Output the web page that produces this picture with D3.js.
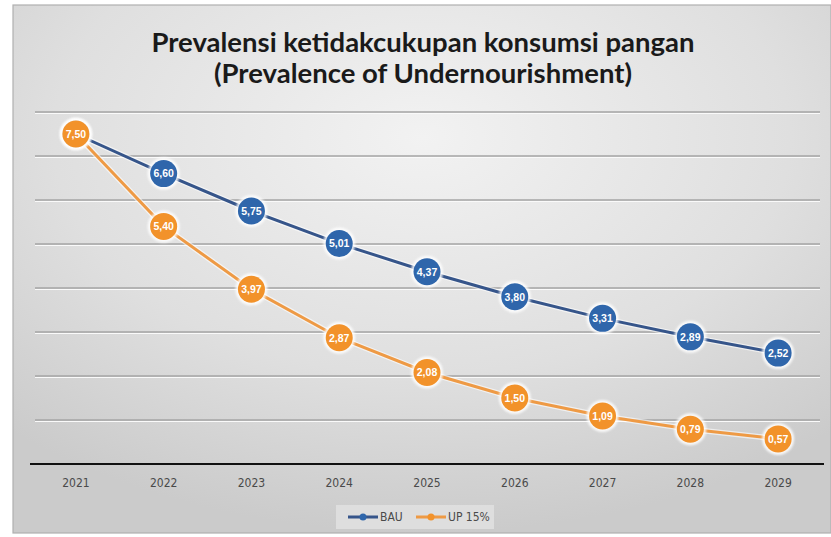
<html>
<head>
<script src="https://d3js.org/d3.v7.min.js"></script>
<style>
  body { margin: 0; background: #fff; }
  svg { display: block; }
</style>
</head>
<body>
<svg id="chart" width="831" height="537"></svg>
<script>
// data
const years = ["2021", "2022", "2023", "2024", "2025", "2026", "2027", "2028", "2029"];
const bau = [7.50, 6.60, 5.75, 5.01, 4.37, 3.80, 3.31, 2.89, 2.52];
const up15 = [7.50, 5.40, 3.97, 2.87, 2.08, 1.50, 1.09, 0.79, 0.57];
const seriesNames = ["BAU", "UP 15%"];
const titleLines = ["Prevalensi ketidakcukupan konsumsi pangan", "(Prevalence of Undernourishment)"];

const svg = d3.select("#chart");
const W = 831, H = 537;

// background panel with soft grey gradient
const defs = svg.append("defs");
const grad = defs.append("radialGradient")
    .attr("id", "bg")
    .attr("cx", "50%").attr("cy", "25%").attr("r", "75%");
grad.append("stop").attr("offset", "0%").attr("stop-color", "#f2f2f2");
grad.append("stop").attr("offset", "60%").attr("stop-color", "#dfdfdf");
grad.append("stop").attr("offset", "100%").attr("stop-color", "#cbcbcb");

const glow = defs.append("filter").attr("id", "glow")
    .attr("x", "-50%").attr("y", "-50%").attr("width", "200%").attr("height", "200%");
glow.append("feGaussianBlur").attr("stdDeviation", 1.2);

svg.append("rect").attr("width", W).attr("height", H).attr("fill", "#fff");
svg.append("rect")
    .attr("x", 13).attr("y", 5)
    .attr("width", W - 13).attr("height", 528)
    .attr("fill", "url(#bg)")
    .attr("stroke", "#b0b0b0").attr("stroke-width", 1.2);

// title
svg.append("text")
    .attr("x", 423).attr("y", 52)
    .attr("text-anchor", "middle")
    .style("font-family", "Lato, 'Liberation Sans', sans-serif")
    .style("font-weight", "bold")
    .style("font-size", "27.5px")
    .attr("fill", "#1a1a1a")
    .selectAll("tspan")
    .data(titleLines)
    .join("tspan")
    .attr("x", 423)
    .attr("dy", (d, i) => i === 0 ? 0 : 31)
    .text(d => d);

const x = d3.scaleBand().domain(years).range([32, 822]);
const y = d3.scaleLinear().domain([0, 8]).range([464, 112]);
const cx = d => x(d) + x.bandwidth() / 2;

// gridlines (grey with a light shadow underneath)
const gridVals = d3.range(1, 9);
svg.append("g").selectAll("line")
    .data(gridVals)
    .join("line")
    .attr("x1", 35).attr("x2", 820)
    .attr("y1", d => y(d) + 1.5).attr("y2", d => y(d) + 1.5)
    .attr("stroke", "#fafafa").attr("stroke-width", 1.2);
svg.append("g").selectAll("line")
    .data(gridVals)
    .join("line")
    .attr("x1", 35).attr("x2", 820)
    .attr("y1", d => y(d)).attr("y2", d => y(d))
    .attr("stroke", "#a5a5a5").attr("stroke-width", 1.4);

// x axis
const xAxis = svg.append("g")
    .attr("transform", "translate(0,464)")
    .call(d3.axisBottom(x).tickSize(0).tickPadding(14));
xAxis.select(".domain")
    .attr("d", "M30,0H824")
    .attr("stroke", "#111").attr("stroke-width", 2.2);
xAxis.selectAll("text")
    .style("font-family", "'Liberation Sans Narrow', 'DejaVu Sans Condensed', sans-serif")
    .style("font-size", "12px")
    .attr("fill", "#4a4a4a");

const series = [
    { name: seriesNames[0], values: bau, line: "#36558a", dot: "#2f66ab" },
    { name: seriesNames[1], values: up15, line: "#ee9a45", dot: "#f2922a" }
];

const line = d3.line()
    .x((d, i) => cx(years[i]))
    .y(d => y(d));

// orange path first, blue path above it
[series[1], series[0]].forEach(s => {
    svg.append("path")
        .datum(s.values)
        .attr("d", line)
        .attr("fill", "none")
        .attr("stroke", "#fff").attr("stroke-opacity", 0.6)
        .attr("stroke-width", 5.5);
    svg.append("path")
        .datum(s.values)
        .attr("d", line)
        .attr("fill", "none")
        .attr("stroke", s.line)
        .attr("stroke-width", 3);
});

const fmt = v => v.toFixed(2).replace(".", ",");

function drawMarkers(s) {
    const g = svg.append("g");
    const pts = g.selectAll("g")
        .data(s.values)
        .join("g")
        .attr("transform", (d, i) => `translate(${cx(years[i])},${y(d)})`);
    pts.append("circle").attr("r", 16).attr("fill", "#fff").attr("opacity", 0.85).attr("filter", "url(#glow)");
    pts.append("circle").attr("r", 13.5).attr("fill", s.dot);
    pts.append("text")
        .attr("text-anchor", "middle")
        .attr("dy", "0.36em")
        .style("font-family", "'Liberation Sans', sans-serif")
        .style("font-weight", "bold")
        .style("font-size", "10.5px")
        .attr("fill", "#fff")
        .text(d => fmt(d));
}
drawMarkers(series[0]);
drawMarkers(series[1]);

// legend
const lg = svg.append("g").attr("transform", "translate(336,505)");
lg.append("rect").attr("width", 158).attr("height", 24).attr("fill", "#e6e6e6").attr("opacity", 0.7);
const items = lg.selectAll("g.item")
    .data(series)
    .join("g")
    .attr("class", "item")
    .attr("transform", (d, i) => `translate(${i === 0 ? 12 : 80},12)`);
items.append("line")
    .attr("x1", 0).attr("x2", 30)
    .attr("stroke", d => d.line).attr("stroke-width", 3);
items.append("circle").attr("cx", 15).attr("r", 3.5).attr("fill", d => d.dot);
items.append("text")
    .attr("x", 32).attr("dy", "0.36em")
    .style("font-family", "'Liberation Sans Narrow', 'DejaVu Sans Condensed', sans-serif")
    .style("font-size", "12px")
    .attr("fill", "#4a4a4a")
    .text(d => d.name);
</script>
</body>
</html>
